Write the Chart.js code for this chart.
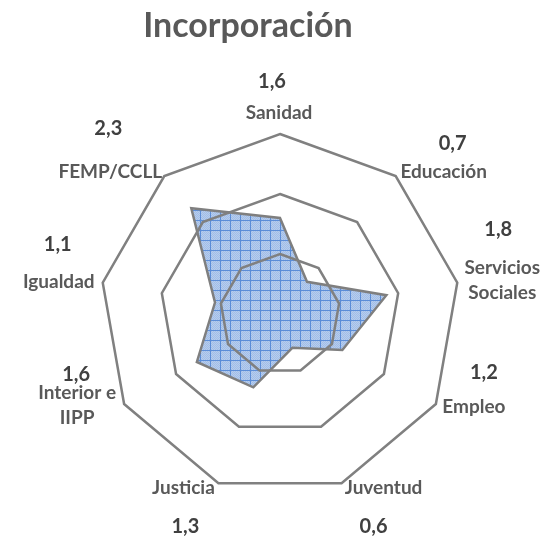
<!DOCTYPE html>
<html>
<head>
<meta charset="utf-8">
<script src="https://cdn.jsdelivr.net/npm/chart.js@4.4.1/dist/chart.umd.min.js"></script>
<style>
  html, body { margin: 0; padding: 0; background: #ffffff; }
  #wrap { width: 544px; height: 545px; position: relative; }
</style>
</head>
<body>
<div id="wrap"><canvas id="radar"></canvas></div>
<script>
// Datos del gráfico
const titulo = "Incorporación";
const categorias = ["Sanidad", "Educación", ["Servicios", "Sociales"], "Empleo", "Juventud", "Justicia", ["Interior e", "IIPP"], "Igualdad", "FEMP/CCLL"];
const valores = [1.6, 0.7, 1.8, 1.2, 0.6, 1.3, 1.6, 1.1, 2.3];
const etiquetasValor = ["1,6", "0,7", "1,8", "1,2", "0,6", "1,3", "1,6", "1,1", "2,3"];
const escalaMax = 3;
const escalaPaso = 1;

// Maquetación: posición de nombres y cifras respecto al vértice exterior de cada eje
const posNombres = [[-1, -21], [48, -4], [45, -2], [38, 3], [42, 5], [-35, 5], [-47, 1], [-44, -1], [-54, -4]];
const posValores = [[-8, -52], [57, -33], [41, -53], [48, -31], [32, 43], [-33, 43], [-48, -29], [-45, -38], [-56, -48]];

// Trama azul cuadriculada con punteado fino
function crearTrama() {
    const c = document.createElement("canvas");
    c.width = 10; c.height = 10;
    const g = c.getContext("2d");
    g.fillStyle = "#b6cdee";
    g.fillRect(0, 0, 10, 10);
    g.fillStyle = "#a2bde6";
    for (let y = 0; y < 10; y++) {
        for (let x = (y % 2); x < 10; x += 2) g.fillRect(x, y, 1, 1);
    }
    g.fillStyle = "#5b8dd8";
    g.fillRect(0, 0, 10, 1);
    g.fillRect(0, 0, 1, 10);
    return g.createPattern(c, "repeat");
}

// Título, nombres de los ejes y cifras
const pluginTextos = {
    id: "textos",
    afterDraw(chart) {
        const ctx = chart.ctx;
        const r = chart.scales.r;
        ctx.save();
        ctx.textAlign = "center";

        ctx.fillStyle = "#595959";
        ctx.textBaseline = "alphabetic";
        ctx.font = "bold 34px Lato";
        ctx.fillText(titulo, 248, 37);

        ctx.textBaseline = "middle";
        ctx.font = "bold 19px Lato";
        categorias.forEach(function (nombre, i) {
            const v = r.getPointPosition(i, r.drawingArea);
            const lineas = Array.isArray(nombre) ? nombre : [nombre];
            const alto = 25;
            const y0 = v.y + posNombres[i][1] - (lineas.length - 1) * alto / 2;
            lineas.forEach(function (l, j) {
                ctx.fillText(l, v.x + posNombres[i][0], y0 + j * alto);
            });
        });

        ctx.fillStyle = "#404040";
        ctx.font = "bold 20px Lato";
        etiquetasValor.forEach(function (txt, i) {
            const v = r.getPointPosition(i, r.drawingArea);
            ctx.fillText(txt, v.x + posValores[i][0], v.y + posValores[i][1]);
        });
        ctx.restore();
    }
};

const ctx = document.getElementById("radar").getContext("2d");
new Chart(ctx, {
    type: "radar",
    data: {
        labels: categorias,
        datasets: [{
            label: titulo,
            data: valores,
            backgroundColor: crearTrama(),
            borderColor: "#7f7f7f",
            borderWidth: 2.5,
            pointRadius: 0,
            fill: true
        }]
    },
    options: {
        responsive: true,
        maintainAspectRatio: false,
        animation: false,
        layout: { padding: { top: 134, left: 100, right: 84, bottom: 51 } },
        plugins: {
            legend: { display: false },
            tooltip: { enabled: false },
            title: { display: false }
        },
        scales: {
            r: {
                min: 0,
                max: escalaMax,
                ticks: { display: false, stepSize: escalaPaso },
                angleLines: { display: false },
                grid: { color: "#808080", lineWidth: 2.5, z: 1 },
                pointLabels: { display: false }
            }
        }
    },
    plugins: [pluginTextos]
});
</script>
</body>
</html>
